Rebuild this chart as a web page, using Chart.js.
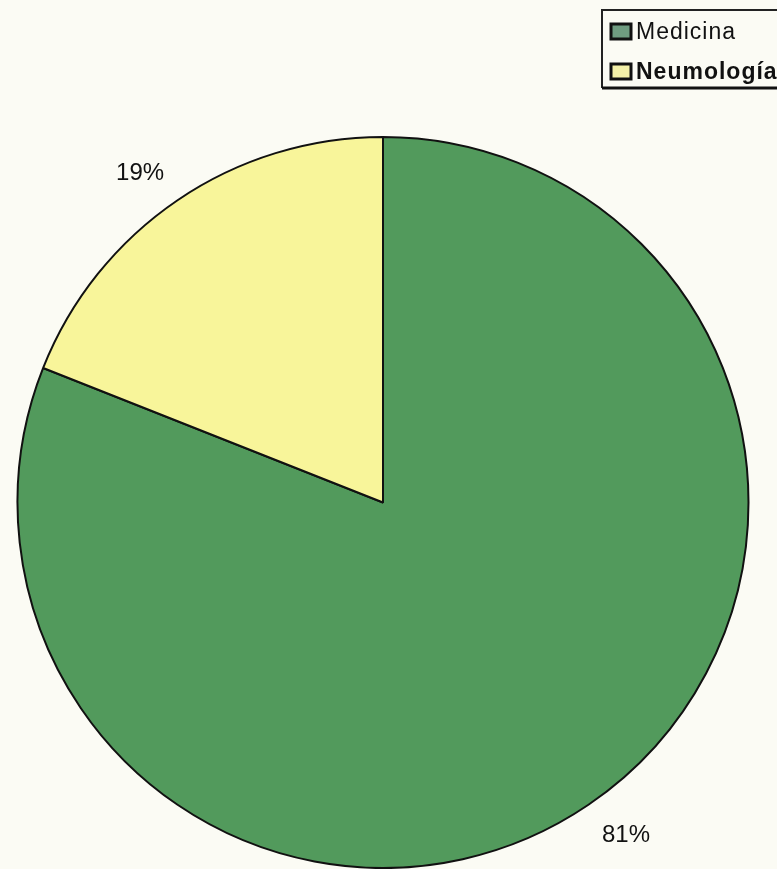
<!DOCTYPE html>
<html>
<head>
<meta charset="utf-8">
<script src="https://cdn.jsdelivr.net/npm/chart.js@4.4.0/dist/chart.umd.min.js"></script>
<style>
  html, body { margin:0; padding:0; background:#fbfbf4; overflow:hidden; }
  canvas { display:block; }
</style>
</head>
<body>
<canvas id="c" width="777" height="869"></canvas>
<script>
const categories = ["Medicina", "Neumología"];
const values = [81, 19];
const labelsText = ["81%", "19%"];
const colors = ["#529a5c", "#f8f59a"];
const legendSwatch = ["#6f9c80", "#f4f1a8"];

const bgPlugin = {
  id: 'bg',
  beforeDraw(chart) {
    const ctx = chart.ctx;
    ctx.save();
    ctx.fillStyle = '#fbfbf4';
    ctx.fillRect(0, 0, chart.width, chart.height);
    ctx.restore();
  }
};

const legendBox = {
  id: 'legendBox',
  afterDraw(chart) {
    const ctx = chart.ctx;
    ctx.save();
    const x0 = 602, y0 = 10, y1 = 88;
    ctx.strokeStyle = '#222';
    ctx.lineWidth = 2;
    ctx.beginPath();
    ctx.moveTo(chart.width + 5, y0); ctx.lineTo(x0, y0); ctx.lineTo(x0, y1);
    ctx.stroke();
    ctx.lineWidth = 3;
    ctx.strokeStyle = '#111';
    ctx.beginPath();
    ctx.moveTo(x0, y1); ctx.lineTo(chart.width + 5, y1);
    ctx.stroke();
    ctx.font = '23px "Liberation Sans", Arial, sans-serif';
    if ('letterSpacing' in ctx) ctx.letterSpacing = '1px';
    ctx.textBaseline = 'alphabetic';
    ctx.textAlign = 'left';
    chart.data.labels.forEach((name, i) => {
      const top = 23 + i * 40;
      ctx.fillStyle = legendSwatch[i];
      ctx.fillRect(611, top + 1, 20, 15);
      ctx.lineWidth = 3;
      ctx.strokeStyle = '#111';
      ctx.strokeRect(611, top + 1, 20, 15);
      ctx.fillStyle = '#111';
      ctx.font = (i === 1 ? 'bold ' : '') + '23px "Liberation Sans", Arial, sans-serif';
      ctx.fillText(name, 636, top + 16);
    });
    ctx.restore();
  }
};

const outsideLabels = {
  id: 'outsideLabels',
  afterDatasetsDraw(chart) {
    const ctx = chart.ctx;
    const meta = chart.getDatasetMeta(0);
    ctx.save();
    ctx.font = '24px "Liberation Sans", Arial, sans-serif';
    ctx.fillStyle = '#111';
    ctx.textBaseline = 'alphabetic';
    const capH = 17;
    meta.data.forEach((arc, i) => {
      const p = arc.getProps(['x','y','startAngle','endAngle','outerRadius'], true);
      const mid = (p.startAngle + p.endAngle) / 2;
      const r = p.outerRadius + 24;
      const ax = p.x + Math.cos(mid) * r;
      const ay = p.y + Math.sin(mid) * r;
      ctx.textAlign = Math.cos(mid) >= 0 ? 'left' : 'right';
      const by = Math.sin(mid) >= 0 ? ay + capH : ay;
      ctx.fillText(labelsText[i], ax, by);
    });
    ctx.restore();
  }
};

new Chart(document.getElementById('c'), {
  type: 'pie',
  data: {
    labels: categories,
    datasets: [{
      data: values,
      backgroundColor: colors,
      borderColor: '#111',
      borderWidth: 2
    }]
  },
  options: {
    responsive: false,
    animation: false,
    layout: { padding: { left: 16, right: 27, top: 136, bottom: 0 } },
    plugins: { legend: { display: false }, tooltip: { enabled: false } }
  },
  plugins: [bgPlugin, outsideLabels, legendBox]
});
</script>
</body>
</html>
